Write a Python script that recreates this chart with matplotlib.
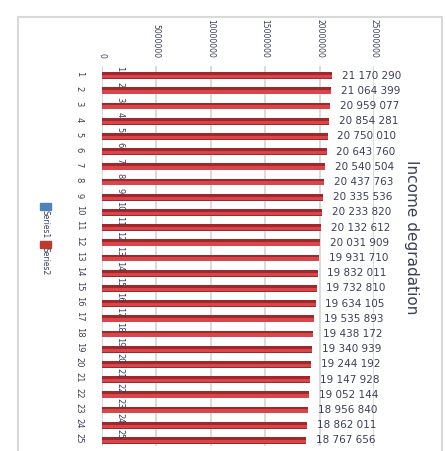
import numpy as np
import matplotlib
matplotlib.use("Agg")
import matplotlib.pyplot as plt
from matplotlib.patches import Rectangle

categories = list(range(1, 26))
series1 = list(range(1, 26))
series2 = [21170290, 21064399, 20959077, 20854281, 20750010, 20643760, 20540504,
           20437763, 20335536, 20233820, 20132612, 20031909, 19931710, 19832011,
           19732810, 19634105, 19535893, 19438172, 19340939, 19244192, 19147928,
           19052144, 18956840, 18862011, 18767656]
xticks = [0, 5000000, 10000000, 15000000, 20000000, 25000000]

txt = '#3a3f58'
W, H = 446, 451

fig = plt.figure(figsize=(W / 100, H / 100), dpi=100)
ax = fig.add_axes([101.7 / W, 1 - 446 / H, (374 - 101.7) / W, 380 / H])

y = np.array(categories, dtype=float)
# series2 bars, two tones to fake the 3d shading
ax.barh(y + 0.13, series2, height=0.44, color='#a2272a', zorder=3)
ax.barh(y + 0.2, series2, height=0.22, color='#d6464b', zorder=3)
ax.barh(y - 0.3, series1, height=0.4, color='#4f81bd', zorder=3)

for yi, v in zip(y, series2):
    ax.annotate(f"{v:,}".replace(',', ' '), (v, yi + 0.13), xytext=(7, 0),
                textcoords='offset points', ha='left', va='center',
                fontsize=7.5, color=txt)
for yi, v in zip(y, series1):
    ax.annotate(str(v), (v, yi - 0.3), xytext=(13, 0),
                textcoords='offset points', ha='center', va='center',
                fontsize=6, color=txt, rotation=-90)

ax.set_xlim(0, 25000000)
ax.set_ylim(25.5, 0.5)
ax.xaxis.tick_top()
ax.set_xticks(xticks)
ax.set_xticklabels([str(t) for t in xticks], rotation=-90, fontsize=5.5,
                   color=txt, va='bottom')
ax.set_yticks(categories)
ax.set_yticklabels([str(c) for c in categories], rotation=-90, fontsize=6,
                   color=txt, va='center')
ax.tick_params(axis='x', length=0, pad=6)
ax.tick_params(axis='y', length=0, pad=13)
ax.grid(axis='x', color='#d4d4d4', lw=1.2, zorder=0)
for s in ax.spines.values():
    s.set_visible(False)

fig.text(412 / W, 1 - 237 / H, 'Income degradation', rotation=-90,
         fontsize=11, ha='center', va='center', color=txt)

# legend, rotated like the rest of the chart
fig.add_artist(Rectangle((40 / W, 1 - 210 / H), 11 / W, 7 / H,
                         transform=fig.transFigure, color='#4f81bd'))
fig.add_artist(Rectangle((40 / W, 1 - 248 / H), 11 / W, 7 / H,
                         transform=fig.transFigure, color='#c0392f'))
fig.text(45 / W, 1 - 224 / H, 'Series1', rotation=-90, fontsize=5.5,
         ha='center', va='center', color=txt)
fig.text(45 / W, 1 - 261 / H, 'Series2', rotation=-90, fontsize=5.5,
         ha='center', va='center', color=txt)

# chart area border
fig.add_artist(Rectangle((18 / W, -0.02), (442 - 18) / W, 1.02 - 17 / H,
                         transform=fig.transFigure, fill=False,
                         edgecolor='#d9d9d9', lw=1.5))

fig.savefig('out.png', dpi=100)
